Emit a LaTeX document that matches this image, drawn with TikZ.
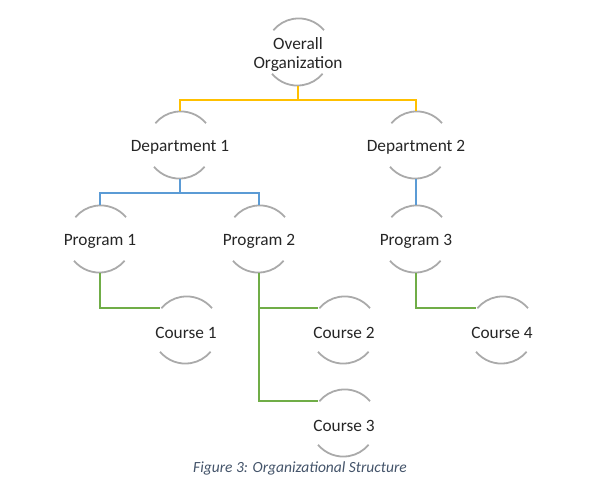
\documentclass[tikz,border=0pt]{standalone}
\usepackage{fontspec}
\setmainfont{Carlito}
\usepackage{tikz}
\usetikzlibrary{positioning}
\definecolor{ringgray}{RGB}{170,170,170}
\definecolor{lnyellow}{RGB}{255,192,0}
\definecolor{lnblue}{RGB}{91,155,213}
\definecolor{lngreen}{RGB}{112,173,71}
\definecolor{capblue}{RGB}{68,84,106}
\tikzset{unit/.style={circle,minimum size=66pt,inner sep=0pt,
        label={[align=center,inner sep=0pt,yshift=-2.5pt,font=\fontsize{17.3}{18.5}\selectfont,text=black!85]center:#1}}}
\tikzset{ring/.style={draw=ringgray,line width=1.8pt}}

\begin{document}
\begin{tikzpicture}[x=1pt,y=1pt,line width=1.8pt]
    \useasboundingbox (0,0) rectangle (598,489);
                \node[unit={Overall\\Organization}] (org) at (298,437) {};
                \node[unit={Department 1}] (d1) at (180,344) {};
                \node[unit={Department 2}] (d2) at (416,344) {};
                \node[unit={Program 1}] (p1) at (100,250) {};
                \node[unit={Program 2}] (p2) at (259,250) {};
                \node[unit={Program 3}] (p3) at (416,250) {};
                \node[unit={Course 1}] (c1) at (186,159) {};
                \node[unit={Course 2}] (c2) at (344,159) {};
                \node[unit={Course 3}] (c3) at (344,66) {};
                \node[unit={Course 4}] (c4) at (502,159) {};
    % half rings round each box
    \foreach \n in {org,d1,d2,p1,p2,p3,c1,c2,c3,c4}
        \draw[ring] (\n.40) arc[start angle=40,end angle=140,radius=33]
                    (\n.220) arc[start angle=220,end angle=320,radius=33];
            \path[draw=lnyellow]
                    (org.south) -- ++(0,-14) -| (d1.north)
                    (org.south) -- ++(0,-14) -| (d2.north);
            \path[draw=lnblue]
                    (d1.south) -- ++(0,-14) -| (p1.north)
                    (d1.south) -- ++(0,-14) -| (p2.north)
                    (d2.south) -- (p3.north);
            \path[draw=lngreen]
                    (p1.south) |- (c1.140)
                    (p2.south) |- (c2.140)
                    (p2.south) |- (c3.140)
                    (p3.south) |- (c4.140);
    \node[font=\fontsize{15.5}{18}\selectfont\itshape,text=capblue] (cap) at (300,21) {Figure 3: Organizational Structure};
\end{tikzpicture}
\end{document}
